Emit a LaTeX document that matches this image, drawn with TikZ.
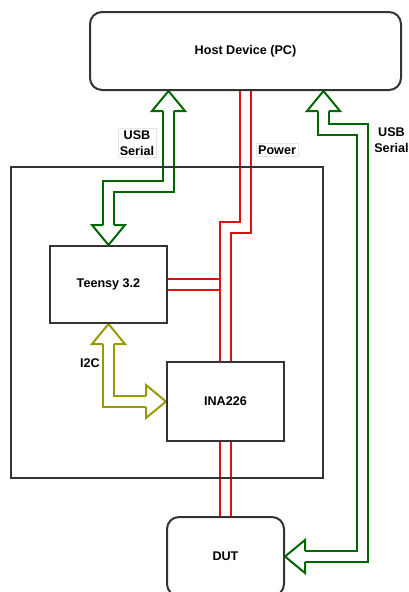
\documentclass[tikz,border=0pt]{standalone}
\usepackage{fontspec}
\setmainfont{Liberation Sans}
\usepackage{xcolor}
\usepackage{tikz}
\usetikzlibrary{calc}

\definecolor{boxgray}{HTML}{333333}
\definecolor{usbgreen}{HTML}{006600}
\definecolor{i2colive}{HTML}{999900}
\definecolor{pwrred}{HTML}{DD1111}

\pgfdeclarelayer{bg}
\pgfsetlayers{bg,main}

\tikzset{
  block/.style={draw=boxgray, fill=white, line width=2pt, minimum width=117pt, minimum height=79pt,
    inner sep=0pt, font=\bfseries\fontsize{12.6}{15}\selectfont},
  rblock/.style={block, rounded corners=12pt},
  lbl/.style={font=\bfseries\fontsize{12.6}{16.5}\selectfont, align=center, inner sep=2pt},
  tag/.style={lbl, fill=white, draw=black!10, line width=0.5pt},
  link/.style={draw=pwrred, line width=2pt, double=white, double distance=9pt},
  flex/.style={draw=#1, line width=2pt, double=white, double distance=9pt,
    shorten <=20pt, shorten >=20pt},
}

% hollow head of a wide arrow: colour, tip, direction
\newcommand{\flexhead}[3]{%
  \begin{scope}[shift={(#2)}, rotate=#3]
    \fill[white] (0,0) -- (-20,16.5) -- (-20,-16.5) -- cycle;
    \draw[#1, line width=2pt, line join=miter] (-20,5.5) -- (-20,16.5) -- (0,0) -- (-20,-16.5) -- (-20,-5.5);
  \end{scope}}

\begin{document}
\begin{tikzpicture}[x=1pt, y=-1pt]
  \useasboundingbox (0,0) rectangle (409,592);

  % boxes
  \node[rblock, minimum width=311pt, minimum height=78pt] (host) at (245.5,51) {Host Device (PC)};
  \node[block, minimum height=77pt] (teensy) at (108.5,284.5) {Teensy 3.2};
  \node[block] (ina) at (225.5,401.5) {INA226};
  \node[rblock] (dut) at (225.5,556.5) {DUT};

  \coordinate (g1top) at ($(host.south)+(-77,0)$);
  \coordinate (g2top) at ($(host.south)+(78,0)$);

  \begin{pgfonlayer}{bg}
    % power
    \draw[link] (teensy.east) -- (ina.north |- teensy.east);
    \draw[link] (host.south) -- ++(0,136.5) -| (ina.north);
    \draw[link] (ina.south) -- (ina.south |- dut.north);

    % usb serial
    \draw[flex=usbgreen] (teensy.north) -- ++(0,-58.5) -| (g1top);
    \flexhead{usbgreen}{teensy.north}{270}
    \flexhead{usbgreen}{g1top}{90}
    \draw[flex=usbgreen] (g2top) -- ++(0,38.5) -- ++(39,0) |- (dut.east);
    \flexhead{usbgreen}{g2top}{90}
    \flexhead{usbgreen}{dut.east}{180}

    % i2c
    \draw[flex=i2colive] (teensy.south) |- (ina.west);
    \flexhead{i2colive}{teensy.south}{90}
    \flexhead{i2colive}{ina.west}{0}
  \end{pgfonlayer}

  \node[draw=boxgray, line width=2pt, minimum width=312pt, minimum height=311pt] (board) at (167,322.5) {};

  % labels
  \node[tag] (usbl) at (137,143) {USB\\Serial};
  \node[tag] (pwr) at (277,150) {Power};
  \node[lbl] (i2c) at (90,363) {I2C};
  \node[lbl] (usbr) at (391.5,140) {USB\\Serial};
\end{tikzpicture}
\end{document}
